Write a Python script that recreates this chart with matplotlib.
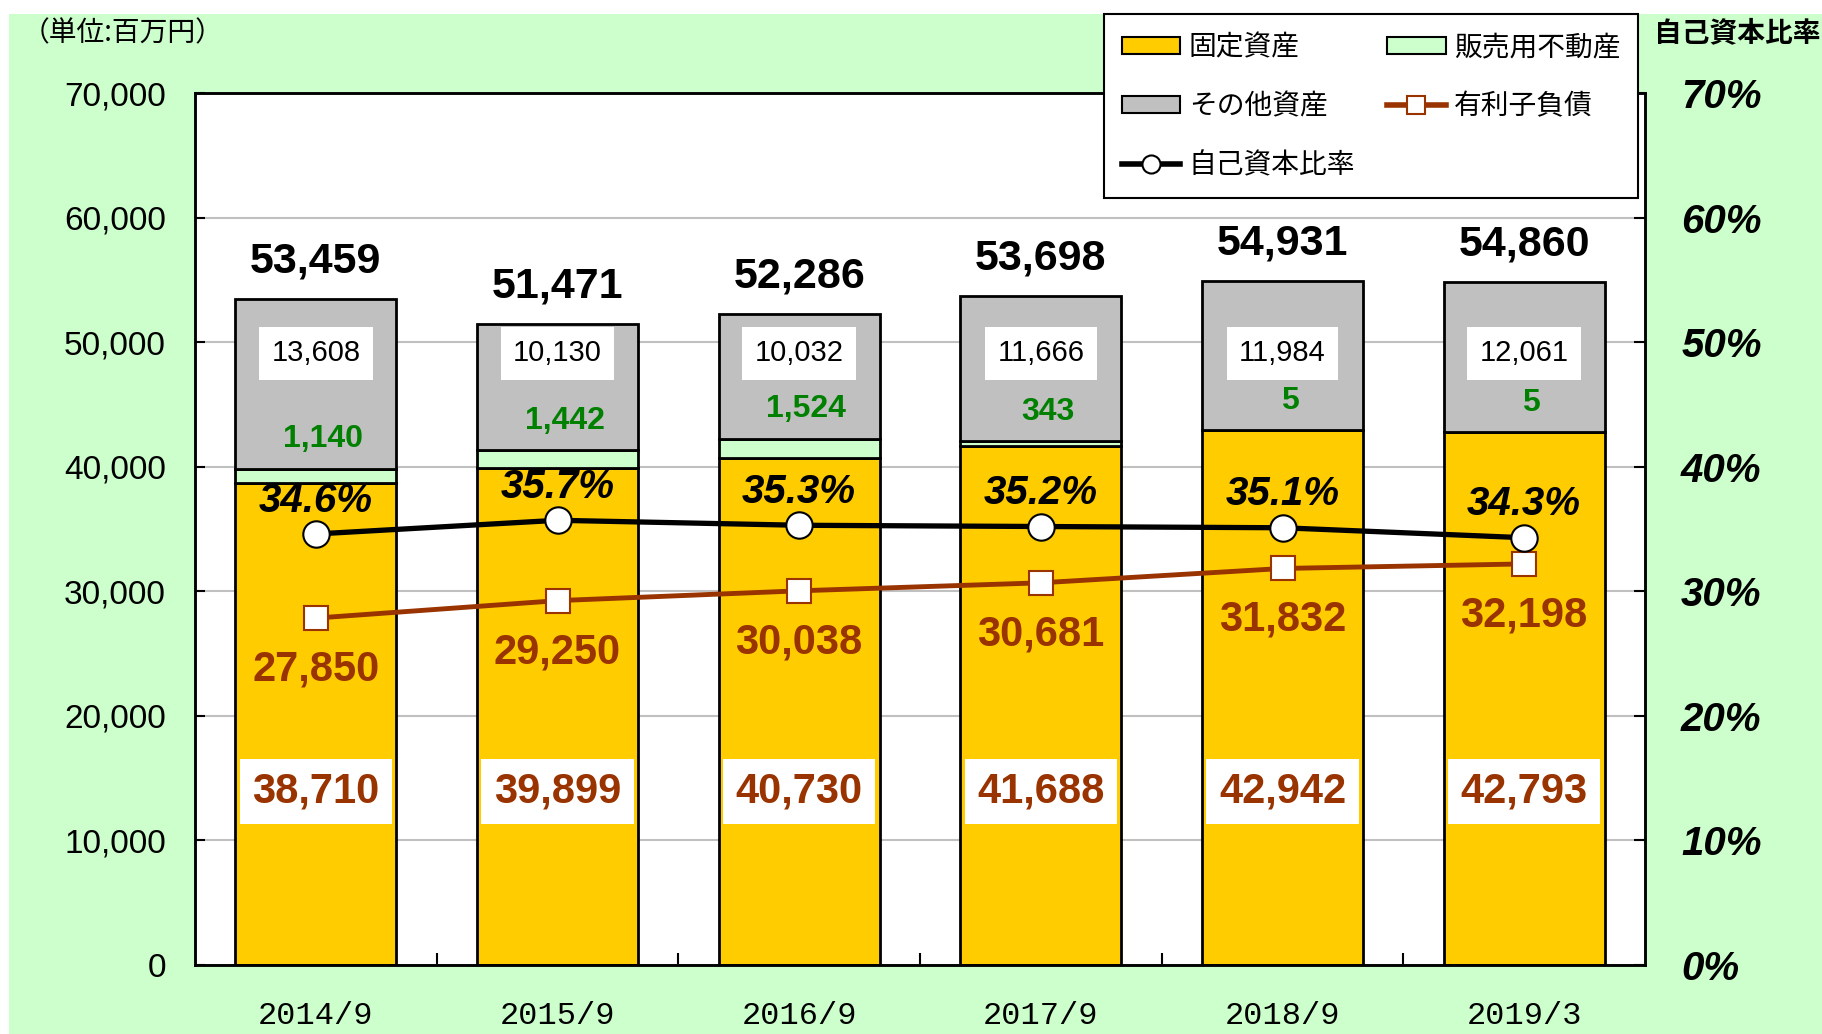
import matplotlib
matplotlib.use('Agg')
import matplotlib.pyplot as plt
from matplotlib.patches import Rectangle, Patch
from matplotlib.lines import Line2D
from matplotlib.font_manager import FontProperties
import numpy as np

plt.rcParams['font.family'] = ['Liberation Sans', 'Noto Sans CJK JP']

categories = ['2014/9', '2015/9', '2016/9', '2017/9', '2018/9', '2019/3']
fixed_assets = [38710, 39899, 40730, 41688, 42942, 42793]
real_estate_for_sale = [1140, 1442, 1524, 343, 5, 5]
other_assets = [13608, 10130, 10032, 11666, 11984, 12061]
totals = [53459, 51471, 52286, 53698, 54931, 54860]
interest_debt = [27850, 29250, 30038, 30681, 31832, 32198]
equity_ratio = [34.6, 35.7, 35.3, 35.2, 35.1, 34.3]
left_ticks = [0, 10000, 20000, 30000, 40000, 50000, 60000, 70000]
right_ticks = [0, 10, 20, 30, 40, 50, 60, 70]

YELLOW = '#FFCC00'
LGREEN = '#CCFFCC'
GRAY = '#C0C0C0'
BROWN = '#993300'
GREEN = '#008000'

W, H = 1822, 1034
fig = plt.figure(figsize=(W / 100, H / 100), dpi=100)
fig.patch.set_facecolor('white')
fig.add_artist(Rectangle((9 / W, 0), 1 - 9 / W, 1 - 14 / H, transform=fig.transFigure,
                         facecolor=LGREEN, edgecolor='none', zorder=-10))

ax = fig.add_axes([195 / W, 1 - 965 / H, (1645 - 195) / W, (965 - 93) / H])
ax.set_facecolor('white')
x = np.arange(len(categories))
bw = 0.665
fa = np.array(fixed_assets)
re_ = np.array(real_estate_for_sale)
oa = np.array(other_assets)

ax.bar(x, fa, width=bw, color=YELLOW, edgecolor='black', linewidth=2, zorder=2)
ax.bar(x, re_, bottom=fa, width=bw, color=LGREEN, edgecolor='black', linewidth=2, zorder=2)
ax.bar(x, oa, bottom=fa + re_, width=bw, color=GRAY, edgecolor='black', linewidth=2, zorder=2)

ax.plot(x, interest_debt, color=BROWN, lw=3.5, marker='s', ms=17, mfc='white',
        mec=BROWN, mew=1.5, zorder=5)

ax.set_xlim(-0.5, 5.5)
ax.set_ylim(0, 70000)
ax.set_yticks(left_ticks)
ax.set_yticklabels([f'{v:,}' for v in left_ticks])
ax.yaxis.grid(True, color=GRAY, linewidth=1.5, zorder=0)
ax.set_axisbelow(True)
ax.set_xticks(x)
ax.set_xticklabels(categories, fontfamily='Liberation Mono', fontsize=23)
ax.set_xticks(np.arange(0.5, 5.5, 1.0), minor=True)
ax.tick_params(axis='x', which='major', length=0, pad=26)
ax.tick_params(axis='x', which='minor', direction='in', length=9, width=1.5)
ax.tick_params(axis='y', direction='in', length=7, width=1.5, pad=21, labelsize=24)
for s in ax.spines.values():
    s.set_linewidth(1.8)
    s.set_color('black')

# labels
for i in x:
    ax.annotate(f'{totals[i]:,}', (i, totals[i]), xytext=(0, 27), textcoords='offset points',
                ha='center', va='center', fontsize=31, fontweight='bold', zorder=6)
    ax.annotate(f'{fixed_assets[i]:,}', (i, 13900), ha='center', va='center', fontsize=30,
                fontweight='bold', color=BROWN, zorder=6,
                bbox=dict(boxstyle='square,pad=0.3', facecolor='white', edgecolor='none'))
    ax.annotate(f'{interest_debt[i]:,}', (i, interest_debt[i]), xytext=(0, -37),
                textcoords='offset points', ha='center', va='center', fontsize=30,
                fontweight='bold', color=BROWN, zorder=6)
    ax.annotate(f'{real_estate_for_sale[i]:,}', (i, fa[i] + re_[i]), xytext=(5, 21),
                textcoords='offset points', ha='center', va='center', fontsize=23,
                fontweight='bold', color=GREEN, zorder=6)
    ax.annotate(f'{other_assets[i]:,}', (i, 49100), ha='center', va='center', fontsize=21,
                color='black', zorder=6,
                bbox=dict(boxstyle='square,pad=0.42', facecolor='white', edgecolor='none'))

ax2 = ax.twinx()
ax2.set_ylim(0, 70)
ax2.plot(x, equity_ratio, color='black', lw=3.8, marker='o', ms=19, mfc='white',
         mec='black', mew=1.5, zorder=3)
ax2.set_yticks(right_ticks)
ax2.set_yticklabels([f'{v}%' for v in right_ticks], fontsize=29, fontweight='bold',
                    fontstyle='italic')
ax2.tick_params(axis='y', direction='in', length=8, width=1.5, pad=26)
for s in ax2.spines.values():
    s.set_linewidth(1.8)
for i in x:
    ax2.annotate(f'{equity_ratio[i]}%', (i, equity_ratio[i]), xytext=(0, 24),
                 textcoords='offset points', ha='center', va='center', fontsize=29,
                 fontweight='bold', fontstyle='italic', zorder=2)

fig.text(22 / W, 1 - 33 / H, '（単位:百万円）', fontsize=20, ha='left', va='center',
         family=['Noto Sans CJK JP'])
fig.text(1737 / W, 1 - 33 / H, '自己資本比率', fontsize=20, fontweight='bold', ha='center',
         va='center', family=['Noto Sans CJK JP'])

handles = [
    Patch(facecolor=YELLOW, edgecolor='black', linewidth=1.5, label='固定資産'),
    Patch(facecolor=GRAY, edgecolor='black', linewidth=1.5, label='その他資産'),
    Line2D([], [], color='black', lw=4, marker='o', ms=13, mfc='white', mec='black',
           mew=1.5, label='自己資本比率'),
    Patch(facecolor=LGREEN, edgecolor='black', linewidth=1.5, label='販売用不動産'),
    Line2D([], [], color=BROWN, lw=4, marker='s', ms=13, mfc='white', mec=BROWN,
           mew=1.5, label='有利子負債'),
]
leg = fig.legend(handles=handles, ncol=2, loc='upper left',
                 bbox_to_anchor=(1104 / W, 1 - 14 / H),
                 prop=FontProperties(family=['Noto Sans CJK JP'], size=20),
                 frameon=True, fancybox=False, edgecolor='black', framealpha=1,
                 borderpad=0.65, labelspacing=1.05, handlelength=2.1, handleheight=0.55,
                 handletextpad=0.3, columnspacing=1.15, borderaxespad=0)
leg.get_frame().set_linewidth(1.5)
leg.set_zorder(20)

fig.savefig('out.png', dpi=100, facecolor=fig.get_facecolor())
